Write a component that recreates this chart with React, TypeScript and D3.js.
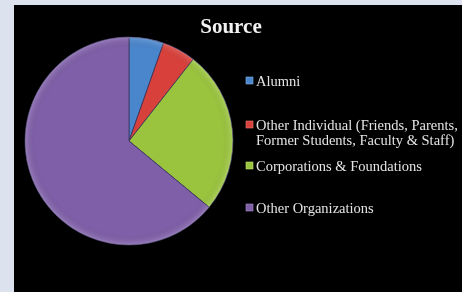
import React from "react";
import * as d3 from "d3";

const categories = [
  "Alumni",
  "Other Individual (Friends, Parents,|Former Students, Faculty & Staff)",
  "Corporations & Foundations",
  "Other Organizations",
];
const values = [5.4, 5.2, 25.4, 64.0];
const colors = ["#4a86cc", "#d8413b", "#9bc43e", "#7f5fa8"];
const edgeColors = ["#7fb0e6", "#f07a72", "#c4e07a", "#a98ccc"];
const legendY = [86, 130, 171, 213];

export default function App() {
  const W = 462, H = 292;
  const cx = 129, cy = 141, r = 104;
  const pie = d3.pie<number>().sort(null).value((d) => d);
  const arcs = pie(values);
  const arc = d3.arc<d3.PieArcDatum<number>>().innerRadius(0).outerRadius(r);
  return (
    <svg width={W} height={H} style={{ position: "absolute", left: 0, top: 0 }}>
      <defs>
        <radialGradient id="shade" cx="0.5" cy="0.5" r="0.5">
          <stop offset="0.9" stopColor="#000" stopOpacity={0} />
          <stop offset="0.985" stopColor="#fff" stopOpacity={0.12} />
          <stop offset="1" stopColor="#fff" stopOpacity={0.25} />
        </radialGradient>
        <filter id="blur1"><feGaussianBlur stdDeviation="0.4" /></filter>
      </defs>
      <rect x={0} y={0} width={W} height={H} fill="#dce3ee" />
      <rect x={14} y={5} width={W - 14} height={H - 5} fill="#000" />
      <text x={231} y={33} textAnchor="middle" fontFamily="Liberation Serif" fontWeight="bold" fontSize={21} fill="#f2f2f2" filter="url(#blur1)">Source</text>
      <g transform={`translate(${cx},${cy})`}>
        {arcs.map((a, i) => (
          <path key={i} d={arc(a) || ""} fill={colors[i]} stroke="#3a3560" strokeWidth={0.8} />
        ))}
        <circle r={r} fill="url(#shade)" />
      </g>
      {categories.map((c, i) => {
        const lines = c.split("|");
        return (
          <g key={i}>
            <rect x={246} y={legendY[i] - 9} width={7} height={7} fill={colors[i]} stroke={edgeColors[i]} strokeWidth={0.6} />
            {lines.map((l, j) => (
              <text key={j} x={256} y={legendY[i] + j * 15} fontFamily="Liberation Serif" fontSize={14.5} fill="#e4e4e4" filter="url(#blur1)">{l}</text>
            ))}
          </g>
        );
      })}
    </svg>
  );
}
